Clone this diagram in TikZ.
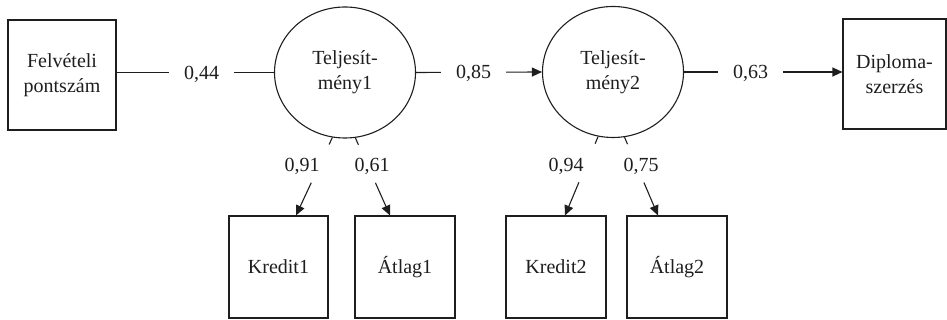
\documentclass[tikz,border=0pt]{standalone}
\usepackage{fontspec}
\setmainfont{Liberation Serif}
\usetikzlibrary{shapes.geometric,arrows.meta,calc}
\definecolor{ink}{HTML}{1E1E1E}
\begin{document}
\begin{tikzpicture}[x=1pt,y=1pt,
  every node/.style={font=\fontsize{20}{25}\selectfont, text=ink},
  box/.style={draw=ink, line width=1.1pt, rectangle, inner sep=0pt, align=center},
  lat/.style={draw=ink, line width=1.1pt, ellipse, minimum width=141pt, minimum height=131pt, inner sep=0pt, align=center},
  conn/.style={draw=ink, line width=1.1pt},
  arr/.style={conn, -{Triangle[length=10pt,width=9pt]}},
  lbl/.style={fill=white, inner xsep=15pt, inner ysep=2pt, yshift=-1.5pt}]
\useasboundingbox (0,0) rectangle (947,320);
% nodes
\node[box, minimum width=108pt, minimum height=110pt] (fp) at (62,245) {Felvételi\\pontszám};
\node[lat] (t1) at (345,247.5) {Teljesít-\\mény1};
\node[lat] (t2) at (613,248) {Teljesít-\\mény2};
\node[box, minimum width=103pt, minimum height=110pt] (dip) at (894.5,246) {Diploma-\\szerzés};
\node[box, minimum width=99pt, minimum height=102pt] (k1) at (278.5,53) {Kredit1};
\node[box, minimum width=100pt, minimum height=102pt] (a1) at (405,53) {Átlag1};
\node[box, minimum width=100pt, minimum height=102pt] (k2) at (556,53) {Kredit2};
\node[box, minimum width=100pt, minimum height=102pt] (a2) at (677,53) {Átlag2};
% horizontal paths
\draw[conn] (t1.west -| fp.east) -- node[lbl, pos=0.54] (l44) {0,44} (t1.west);
\draw[arr] (t1.east) -- node[lbl, pos=0.457] (l85) {0,85} (t2.west);
\draw[arr] (t2.east) -- node[lbl, pos=0.42] (l63) {0,63} (t2.east -| dip.west);
% end points on box tops
\coordinate (ek1) at ([xshift=17.5pt]k1.north);
\coordinate (ea1) at ([xshift=-15pt]a1.north);
\coordinate (ek2) at ([xshift=9pt]k2.north);
\coordinate (ea2) at ([xshift=-19pt]a2.north);
% loadings
\draw[conn] (t1.259) -- ($(t1.259)!0.09!(ek1)$);
\draw[arr] ($(t1.259)!0.58!(ek1)$) -- (ek1);
\draw[conn] (t1.279) -- ($(t1.279)!0.09!(ea1)$);
\draw[arr] ($(t1.279)!0.58!(ea1)$) -- (ea1);
\draw[conn] (t2.257) -- ($(t2.257)!0.09!(ek2)$);
\draw[arr] ($(t2.257)!0.58!(ek2)$) -- (ek2);
\draw[conn] (t2.280) -- ($(t2.280)!0.09!(ea2)$);
\draw[arr] ($(t2.280)!0.58!(ea2)$) -- (ea2);
\node (l91) at (302,154) {0,91};
\node (l61) at (372,154) {0,61};
\node (l94) at (566,154) {0,94};
\node (l75) at (641,154) {0,75};
\end{tikzpicture}
\end{document}
